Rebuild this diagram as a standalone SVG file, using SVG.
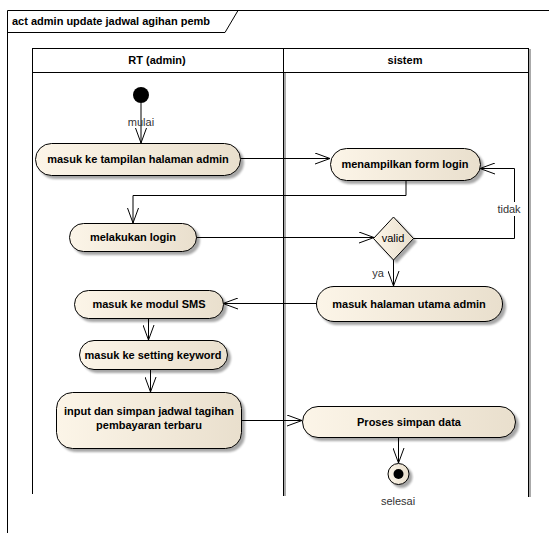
<svg xmlns="http://www.w3.org/2000/svg" width="549" height="533" viewBox="0 0 549 533">
  <defs>
    <linearGradient id="actFill" x1="0" y1="0" x2="1" y2="0">
      <stop offset="0" stop-color="#fcf5e8"/>
      <stop offset="1" stop-color="#e9dfcd"/>
    </linearGradient>
    <filter id="shadow" x="-10%" y="-10%" width="130%" height="140%">
      <feGaussianBlur in="SourceAlpha" stdDeviation="1"/>
      <feOffset dx="3" dy="3" result="b"/>
      <feComponentTransfer><feFuncA type="linear" slope="0.35"/></feComponentTransfer>
      <feMerge><feMergeNode/><feMergeNode in="SourceGraphic"/></feMerge>
    </filter>
    <marker id="open" markerUnits="userSpaceOnUse" markerWidth="16" markerHeight="12" refX="15" refY="6" orient="auto">
      <path d="M0,0.5 L15,6 L0,11.5" fill="none" stroke="#000" stroke-width="1"/>
    </marker>
  </defs>
  <style>
    .act { fill: url(#actFill); stroke: #000; stroke-width: 1; filter: url(#shadow); }
    .lbl { font-family: "Liberation Sans", Arial, sans-serif; font-size: 11px; font-weight: bold; fill: #000; text-anchor: middle; }
    .note { font-family: "Liberation Sans", Arial, sans-serif; font-size: 11px; fill: #333; text-anchor: middle; }
    .edge { fill: none; stroke: #000; stroke-width: 1; marker-end: url(#open); }
    .lane { fill: none; stroke: #000; stroke-width: 1; }
    .laneShade { fill: none; stroke: #aaa; stroke-width: 2; }
  </style>

  <rect width="549" height="533" fill="#fff"/>

  <!-- diagram frame with title tab -->
  <g id="frame">
    <path d="M7.5,533 L7.5,10.5 L549,10.5" fill="none" stroke="#000"/>
    <path d="M7.5,32.5 L225,32.5 L238,10.5" fill="none" stroke="#000"/>
    <text x="12" y="25" font-family="Liberation Sans, Arial, sans-serif" font-size="11" font-weight="bold">act admin update jadwal agihan pemb</text>
  </g>

  <!-- swimlanes -->
  <g id="lanes">
    <line class="laneShade" x1="285" y1="49" x2="285" y2="496"/>
    <line class="laneShade" x1="530" y1="49" x2="530" y2="497"/>
    <rect x="32.5" y="48.5" width="496" height="24" fill="#fff" stroke="#000"/>
    <line class="lane" x1="32.5" y1="72" x2="32.5" y2="494"/>
    <line class="lane" x1="283.5" y1="48" x2="283.5" y2="496"/>
    <line class="lane" x1="528.5" y1="48" x2="528.5" y2="497"/>
    <text class="lbl" x="157" y="64">RT (admin)</text>
    <text class="lbl" x="405" y="64">sistem</text>
  </g>

  <!-- connectors -->
  <g id="connectors">
    <path class="edge" d="M141,103 L141,143"/>
    <path class="edge" d="M241,158.5 L330,158.5"/>
    <path class="edge" d="M406,180 L406,195.5 L133,195.5 L133,223"/>
    <path class="edge" d="M196,237.5 L374,237.5"/>
    <path class="edge" d="M413,238.5 L514.5,238.5 L514.5,168.5 L480,168.5"/>
    <path class="edge" d="M393.5,260 L393.5,286"/>
    <path class="edge" d="M316,303.5 L223,303.5"/>
    <path class="edge" d="M148.5,318 L148.5,340"/>
    <path class="edge" d="M150.5,369 L150.5,392"/>
    <path class="edge" d="M241,420.5 L302,420.5"/>
    <path class="edge" d="M398.5,437 L398.5,463"/>
    <rect x="496" y="202" width="26" height="14" fill="#fff"/>
    <text class="note" x="509" y="213">tidak</text>
    <text class="note" x="378" y="277">ya</text>
    <text class="note" x="141" y="126">mulai</text>
  </g>

  <!-- initial node -->
  <g id="start">
    <circle cx="141" cy="95" r="8" fill="#000"/>
  </g>

  <g id="masuk-tampilan">
    <rect class="act" x="35.5" y="143.5" width="205" height="32" rx="16"/>
    <text class="lbl" x="138" y="163">masuk ke tampilan halaman admin</text>
  </g>

  <g id="form-login">
    <rect class="act" x="330.5" y="148.5" width="150" height="32" rx="16"/>
    <text class="lbl" x="405" y="168">menampilkan form login</text>
  </g>

  <g id="melakukan-login">
    <rect class="act" x="69.5" y="223.5" width="127" height="28" rx="14"/>
    <text class="lbl" x="133" y="241">melakukan login</text>
  </g>

  <g id="valid">
    <path class="act" d="M393.5,217 L413.5,238.5 L393.5,260 L373.5,238.5 Z"/>
    <text class="note" x="393" y="242" fill="#000" style="fill:#000">valid</text>
  </g>

  <g id="halaman-utama">
    <rect class="act" x="316.5" y="286.5" width="186" height="35" rx="17.5"/>
    <text class="lbl" x="409" y="308">masuk halaman utama admin</text>
  </g>

  <g id="modul-sms">
    <rect class="act" x="74.5" y="290.5" width="149" height="28" rx="14"/>
    <text class="lbl" x="149" y="308">masuk ke modul SMS</text>
  </g>

  <g id="setting-keyword">
    <rect class="act" x="79.5" y="340.5" width="148" height="29" rx="14.5"/>
    <text class="lbl" x="153" y="359">masuk ke setting keyword</text>
  </g>

  <g id="input-simpan">
    <rect class="act" x="56.5" y="392.5" width="185" height="56" rx="16"/>
    <text class="lbl" x="149" y="415">input dan simpan jadwal tagihan</text>
    <text class="lbl" x="149" y="429">pembayaran terbaru</text>
  </g>

  <g id="proses-simpan">
    <rect class="act" x="302.5" y="406.5" width="213" height="31" rx="15.5"/>
    <text class="lbl" x="409" y="426">Proses simpan data</text>
  </g>

  <!-- final node -->
  <g id="selesai">
    <circle cx="398.5" cy="474" r="10.5" fill="url(#actFill)" stroke="#000" filter="url(#shadow)"/>
    <circle cx="398.5" cy="474" r="5" fill="#000"/>
    <text class="note" x="398" y="505">selesai</text>
  </g>
</svg>
